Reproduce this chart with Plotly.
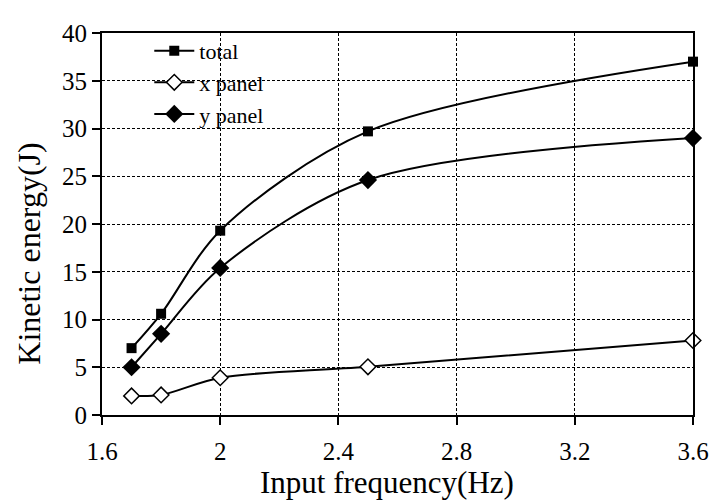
import plotly.graph_objects as go

# Input frequency (Hz)
freq = [1.7, 1.8, 2.0, 2.5, 3.6]

# Kinetic energy (J)
total = [7.0, 10.6, 19.3, 29.7, 37.0]
x_panel = [2.0, 2.1, 3.9, 5.05, 7.8]
y_panel = [5.0, 8.5, 15.4, 24.6, 29.0]

x_ticks = [1.6, 2.0, 2.4, 2.8, 3.2, 3.6]
x_tick_labels = ['1.6', '2', '2.4', '2.8', '3.2', '3.6']
y_ticks = [0, 5, 10, 15, 20, 25, 30, 35, 40]

font_family = 'Liberation Serif'

fig = go.Figure()

fig.add_trace(go.Scatter(
    x=freq, y=total, mode='lines+markers', name='total',
    line=dict(color='black', width=2, shape='spline', smoothing=0.9),
    marker=dict(symbol='square', size=10, color='black'),
    cliponaxis=False))

fig.add_trace(go.Scatter(
    x=freq, y=x_panel, mode='lines+markers', name='x panel',
    line=dict(color='black', width=2, shape='spline', smoothing=0.9),
    marker=dict(symbol='diamond', size=12, color='white',
                line=dict(color='black', width=1.5)),
    cliponaxis=False))

fig.add_trace(go.Scatter(
    x=freq, y=y_panel, mode='lines+markers', name='y panel',
    line=dict(color='black', width=2, shape='spline', smoothing=0.9),
    marker=dict(symbol='diamond', size=14, color='black'),
    cliponaxis=False))

axis_common = dict(
    showline=True, linecolor='black', linewidth=2, mirror=True,
    ticks='outside', ticklen=8, tickwidth=1.5, tickcolor='black',
    showgrid=True, gridcolor='black', gridwidth=1, griddash='3px,2px',
    zeroline=False,
    tickfont=dict(family=font_family, size=25, color='black'),
)

fig.update_xaxes(range=[1.6, 3.6], tickvals=x_ticks, ticktext=x_tick_labels,
                 ticklabelstandoff=5, **axis_common)
fig.update_yaxes(range=[0, 40], tickvals=y_ticks, ticksuffix='\u2002',
                 **axis_common)

# axis titles
fig.add_annotation(text='Input frequency(Hz)', xref='paper', yref='paper',
                   x=0.483, y=-0.178, xanchor='center', yanchor='middle',
                   showarrow=False,
                   font=dict(family=font_family, size=31, color='black'))
fig.add_annotation(text='Kinetic energy(J)', xref='paper', yref='paper',
                   x=-0.123, y=0.423, xanchor='center', yanchor='middle',
                   textangle=-90, showarrow=False,
                   font=dict(family=font_family, size=32, color='black'))

# white box behind the legend hides the grid
fig.add_shape(type='rect', xref='paper', yref='paper',
              x0=0.004, x1=0.35, y0=0.736, y1=0.974,
              fillcolor='white', line=dict(width=0), layer='between')

# page body has an 8px margin, so the figure is 8px smaller each way
fig.update_layout(
    width=713, height=492,
    margin=dict(l=94, r=19, t=20, b=85),
    plot_bgcolor='white', paper_bgcolor='white',
    legend=dict(
        x=0.08, y=1.008, xanchor='left', yanchor='top',
        bgcolor='rgba(0,0,0,0)', borderwidth=0,
        font=dict(family=font_family, size=22, color='black'),
        itemwidth=40, tracegroupgap=0,
    ),
)

fig.write_html('out.html')
